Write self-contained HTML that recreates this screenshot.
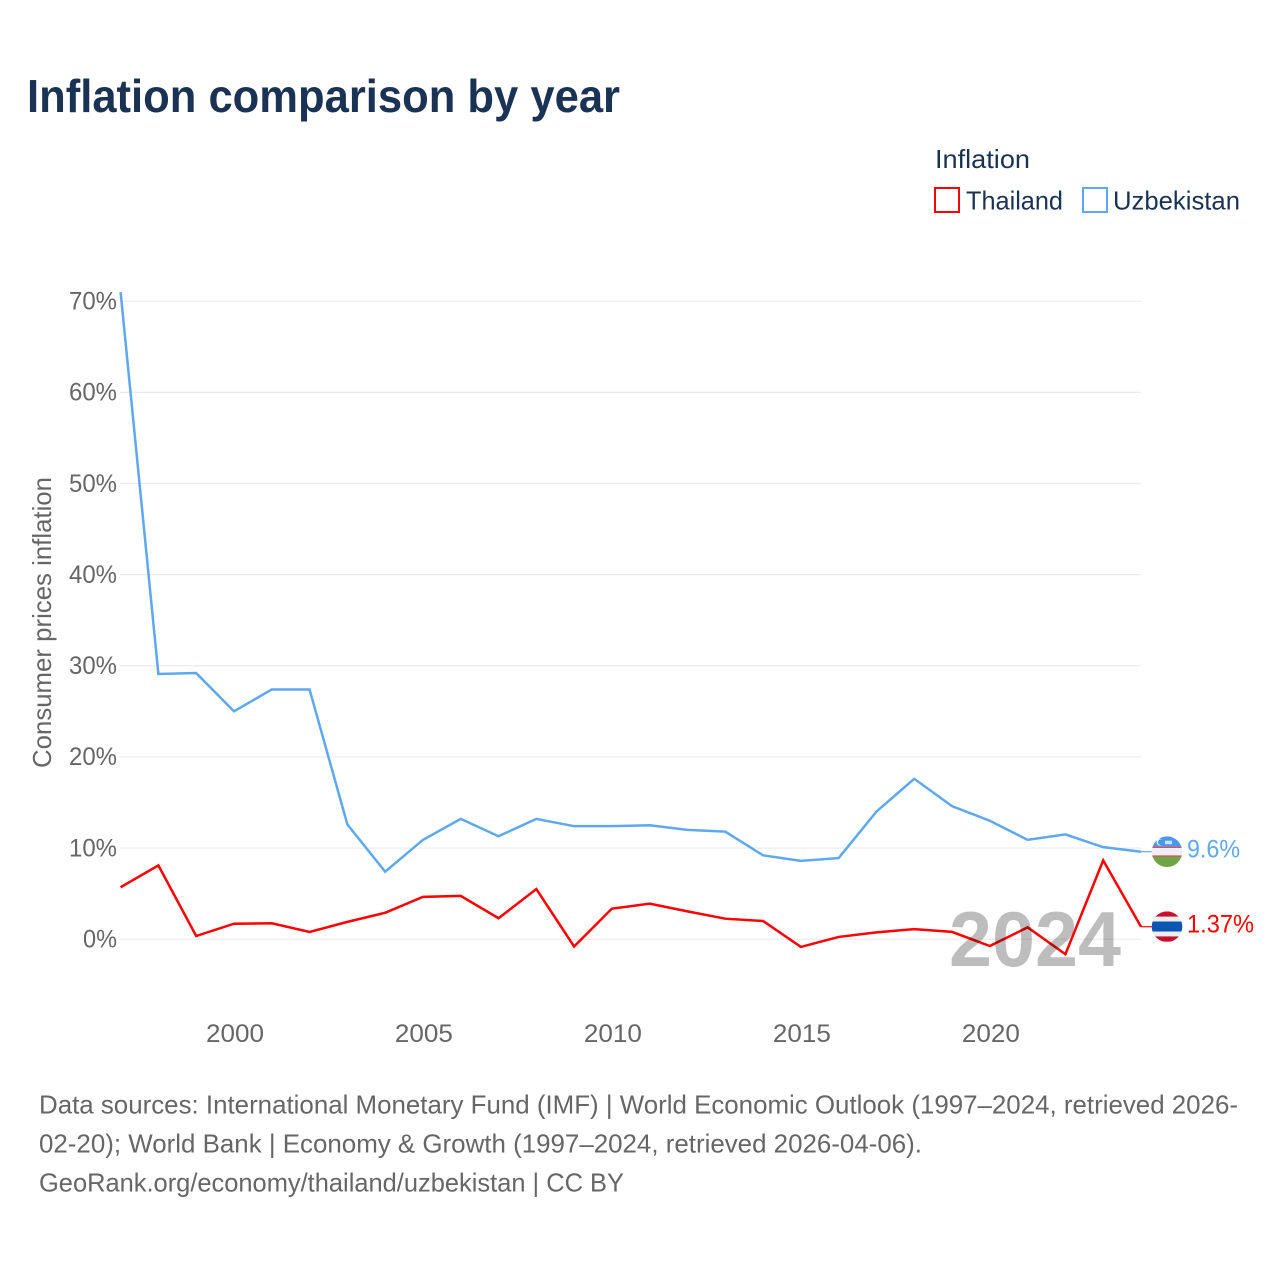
<!DOCTYPE html>
<html lang="en">
<head>
<meta charset="utf-8">
<title>Inflation comparison by year</title>
<style>
html,body{margin:0;padding:0;background:#fff;width:1280px;height:1280px;overflow:hidden}
svg{display:block}
text{font-family:"Liberation Sans",sans-serif}
</style>
</head>
<body>
<svg id="chart" xmlns="http://www.w3.org/2000/svg" width="1280" height="1280" viewBox="0 0 1280 1280">
  <rect width="1280" height="1280" fill="#ffffff"/>
  <text x="27" y="112" font-size="46" font-weight="700" fill="#1a3355" textLength="593" lengthAdjust="spacingAndGlyphs">Inflation comparison by year</text>
  <g>
    <text x="935" y="168" font-size="26" fill="#1a3355" textLength="95" lengthAdjust="spacingAndGlyphs">Inflation</text>
    <g>
      <rect x="935" y="188" width="24" height="24" fill="#ffffff" stroke="#ff0000" stroke-width="2"/>
      <text x="966" y="209.5" font-size="26" fill="#1a3355" textLength="97" lengthAdjust="spacingAndGlyphs">Thailand</text>
    </g>
    <g>
      <rect x="1083" y="188" width="24" height="24" fill="#ffffff" stroke="#5da8ee" stroke-width="2"/>
      <text x="1113" y="209.5" font-size="26" fill="#1a3355" textLength="127" lengthAdjust="spacingAndGlyphs">Uzbekistan</text>
    </g>
  </g>
  <g id="grid"></g>
  <g id="yticks"></g>
  <g id="xticks"></g>
  <text transform="translate(51,768) rotate(-90)" x="0" y="0" font-size="26" fill="#666666" textLength="291" lengthAdjust="spacingAndGlyphs">Consumer prices inflation</text>
  <g id="series"></g>
  <text x="1121" y="966" font-size="78" font-weight="700" fill="#000000" fill-opacity="0.26" text-anchor="end" textLength="172" lengthAdjust="spacingAndGlyphs">2024</text>
  <g id="endmarks"></g>
  <g font-size="26" fill="#666666">
    <text x="39" y="1113.5" textLength="1199" lengthAdjust="spacingAndGlyphs">Data sources: International Monetary Fund (IMF) | World Economic Outlook (1997–2024, retrieved 2026-</text>
    <text x="39" y="1152.5" textLength="883" lengthAdjust="spacingAndGlyphs">02-20); World Bank | Economy &amp; Growth (1997–2024, retrieved 2026-04-06).</text>
    <text x="39" y="1191.5" textLength="585" lengthAdjust="spacingAndGlyphs">GeoRank.org/economy/thailand/uzbekistan | CC BY</text>
  </g>
</svg>
<script>
var years = [1997,1998,1999,2000,2001,2002,2003,2004,2005,2006,2007,2008,2009,2010,2011,2012,2013,2014,2015,2016,2017,2018,2019,2020,2021,2022,2023,2024];
var thailand = [5.7,8.1,0.35,1.7,1.75,0.8,1.9,2.9,4.65,4.75,2.3,5.5,-0.8,3.35,3.9,3.05,2.25,2.0,-0.85,0.25,0.75,1.1,0.8,-0.75,1.3,-1.65,8.65,1.37];
var uzbekistan = [71.0,29.1,29.2,25.0,27.4,27.4,12.6,7.4,10.9,13.2,11.3,13.2,12.4,12.4,12.5,12.0,11.8,9.2,8.6,8.9,14.0,17.6,14.6,13.0,10.9,11.5,10.1,9.6];
var yTickValues = [0,10,20,30,40,50,60,70];
var xTickValues = [2000,2005,2010,2015,2020];

var NS = 'http://www.w3.org/2000/svg';
function xScale(year){ return 120.6 + (year - 1997) * (1141 - 120.6) / 27; }
function yScale(v){ return 939.2 - v * (939.2 - 301.2) / 70; }
function make(tag, parent){
  var el = document.createElementNS(NS, tag);
  parent.appendChild(el);
  return el;
}
function set(el, attrs){
  for (var k in attrs) el.setAttribute(k, attrs[k]);
}

var grid = document.getElementById('grid');
var yticks = document.getElementById('yticks');
yTickValues.forEach(function(v){
  var line = make('line', grid);
  
  
  set(line, {x1:120, x2:1141, y1:yScale(v), y2:yScale(v), stroke:'#ebebeb', 'stroke-width':1.2});
  var t = make('text', yticks);
  
  
  set(t, {x:117, y:yScale(v) + 8.3, 'font-size':25, fill:'#666666', 'text-anchor':'end',
          textLength: v === 0 ? 34 : 48, lengthAdjust:'spacingAndGlyphs'});
  t.textContent = v + '%';
});

var xticks = document.getElementById('xticks');
xTickValues.forEach(function(y){
  var t = make('text', xticks);
  
  
  set(t, {x:xScale(y) + 1, y:1042, 'font-size':25, fill:'#666666', 'text-anchor':'middle',
          textLength:58, lengthAdjust:'spacingAndGlyphs'});
  t.textContent = y;
});

function linePath(values){
  return values.map(function(v, i){
    return (i ? 'L' : 'M') + xScale(years[i]).toFixed(2) + ' ' + yScale(v).toFixed(2);
  }).join(' ');
}
var seriesGroup = document.getElementById('series');

var lineUz = make('path', seriesGroup);


set(lineUz, {d:linePath(uzbekistan), fill:'none', stroke:'#5da8ee', 'stroke-width':2.5});

var lineTh = make('path', seriesGroup);


set(lineTh, {d:linePath(thailand), fill:'none', stroke:'#ff0000', 'stroke-width':2.5});

var endGroup = document.getElementById('endmarks');
var lastX = xScale(years[years.length - 1]);
var flagX = 1167;

function addFlag(name, cy, stripes, connectorColor){
  var conn = make('line', endGroup);
  
  
  set(conn, {x1:lastX, x2:flagX - 14, y1:cy, y2:cy, stroke:connectorColor, 'stroke-width':1.2});

  var defs = make('defs', endGroup);
  var clip = make('clipPath', defs);
  clip.setAttribute('id', 'clip-' + name);
  var c = make('circle', clip);
  set(c, {cx:flagX, cy:cy, r:15.3});

  var flag = make('g', endGroup);
  
  
  flag.setAttribute('clip-path', 'url(#clip-' + name + ')');
  var top = -15.3;
  stripes.forEach(function(s){
    var r = make('rect', flag);
    set(r, {x:flagX - 16, y:cy + top, width:32, height:s[0], fill:s[1]});
    top += s[0];
  });
  return flag;
}

var uzValue = uzbekistan[uzbekistan.length - 1];
var thValue = thailand[thailand.length - 1];
var uzY = yScale(uzValue);
var thY = yScale(thValue);

var uzFlag = addFlag('uzbekistan', uzY, [[10.3,'#4a98ec'],[1.2,'#c8324a'],[7.6,'#f0eef0'],[1.2,'#c8324a'],[10.3,'#6fa544']], '#5da8ee');
var moon = make('circle', uzFlag);
set(moon, {cx:flagX - 7, cy:uzY - 9.5, r:3.4, fill:'#ffffff'});
var moonCut = make('circle', uzFlag);
set(moonCut, {cx:flagX - 6, cy:uzY - 9.5, r:3, fill:'#4a98ec'});
var starRow = make('rect', uzFlag);
set(starRow, {x:flagX - 2, y:uzY - 11, width:7, height:3.5, fill:'#cfe3fa'});

addFlag('thailand', thY, [[5.3,'#c8102e'],[4.8,'#eeeef2'],[10.1,'#0b55b3'],[4.8,'#eeeef2'],[5.3,'#c8102e']], '#ff0000');

var uzLabel = make('text', endGroup);


set(uzLabel, {x:1187, y:uzY + 6, 'font-size':25, fill:'#5da8ee', textLength:53, lengthAdjust:'spacingAndGlyphs'});
uzLabel.textContent = uzValue + '%';

var thLabel = make('text', endGroup);


set(thLabel, {x:1187, y:thY + 6, 'font-size':25, fill:'#ff0000', textLength:67, lengthAdjust:'spacingAndGlyphs'});
thLabel.textContent = thValue + '%';
</script>
</body>
</html>
